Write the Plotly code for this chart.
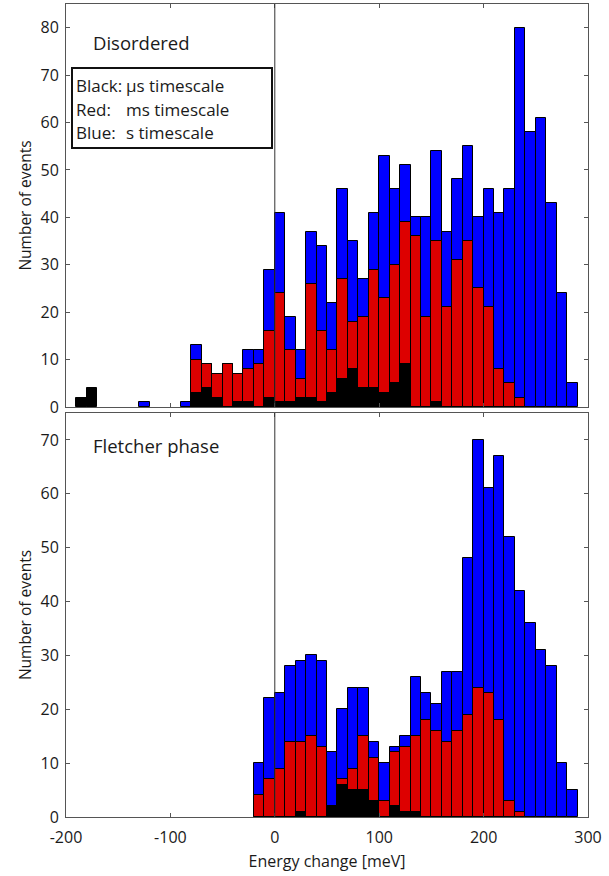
import plotly.graph_objects as go

# bin centres (meV), 10 meV bins
bin_centers = [-195, -185, -175, -165, -155, -145, -135, -125, -115, -105, -95, -85,
               -75, -65, -55, -45, -35, -25, -15, -5, 5, 15, 25, 35, 45, 55, 65, 75,
               85, 95, 105, 115, 125, 135, 145, 155, 165, 175, 185, 195, 205, 215,
               225, 235, 245, 255, 265, 275, 285]

# Disordered panel
dis_blue = [0, 0, 0, 0, 0, 0, 0, 1, 0, 0, 0, 1,
            13, 9, 7, 9, 7, 12, 12, 29, 41, 19, 12, 37, 34, 22, 46, 35,
            27, 41, 53, 46, 51, 40, 40, 54, 37, 48, 55, 40, 46, 41,
            46, 80, 58, 61, 43, 24, 5]
dis_red = [0, 0, 0, 0, 0, 0, 0, 0, 0, 0, 0, 0,
           10, 9, 7, 9, 7, 8, 9, 16, 24, 12, 6, 26, 16, 12, 27, 18,
           19, 29, 23, 30, 39, 36, 19, 35, 21, 31, 35, 25, 21, 8,
           5, 2, 0, 0, 0, 0, 0]
dis_black = [0, 2, 4, 0, 0, 0, 0, 0, 0, 0, 0, 0,
             3, 4, 2, 0, 1, 1, 0, 2, 1, 1, 2, 2, 1, 3, 6, 8,
             4, 4, 3, 5, 9, 0, 0, 1, 0, 0, 0, 0, 0, 0,
             0, 0, 0, 0, 0, 0, 0]

# Fletcher phase panel
fl_blue = [0, 0, 0, 0, 0, 0, 0, 0, 0, 0, 0, 0,
           0, 0, 0, 0, 0, 0, 10, 22, 23, 28, 29, 30, 29, 12, 20, 24,
           24, 14, 10, 13, 15, 26, 23, 21, 27, 27, 48, 70, 61, 67,
           52, 42, 36, 31, 28, 10, 5]
fl_red = [0, 0, 0, 0, 0, 0, 0, 0, 0, 0, 0, 0,
          0, 0, 0, 0, 0, 0, 4, 7, 9, 14, 14, 15, 13, 2, 7, 9,
          15, 11, 3, 12, 13, 15, 18, 16, 14, 16, 19, 24, 23, 18,
          3, 1, 0, 0, 0, 0, 0]
fl_black = [0, 0, 0, 0, 0, 0, 0, 0, 0, 0, 0, 0,
            0, 0, 0, 0, 0, 0, 0, 0, 0, 0, 1, 0, 0, 2, 6, 5,
            5, 3, 0, 2, 1, 1, 0, 0, 0, 0, 0, 0, 0, 0,
            0, 0, 0, 0, 0, 0, 0]

x_ticks = [-200, -100, 0, 100, 200, 300]
BIN_W = 10

BLUE = "#0000ff"
RED = "#dd0000"
BLACK = "#000000"
FONT = "Open Sans"
FRAME = "#555555"
TXT = "#1a1a1a"


def nz(vals):
    return [v if v > 0 else None for v in vals]


fig = go.Figure()

panels = [
    ("x", "y", dis_blue, dis_red, dis_black),
    ("x2", "y2", fl_blue, fl_red, fl_black),
]
for xa, ya, b, r, k in panels:
    for vals, col in ((b, BLUE), (r, RED), (k, BLACK)):
        fig.add_trace(go.Bar(
            x=bin_centers, y=nz(vals), width=BIN_W,
            marker=dict(color=col, line=dict(color="#000000", width=1)),
            xaxis=xa, yaxis=ya, showlegend=False, hoverinfo="x+y",
        ))

H, W = 876, 609
mt, mb, ml, mr = 4, 59, 66, 21
ph = H - mt - mb
pw = W - ml - mr


def frac(py):
    return (H - mb - py) / ph


axis_common = dict(
    showline=True, linecolor=FRAME, linewidth=1, mirror="ticks",
    ticks="inside", ticklen=4, tickcolor=FRAME, showgrid=False, zeroline=False,
    tickfont=dict(family=FONT, size=16, color=TXT),
)

fig.update_layout(
    width=W, height=H,
    margin=dict(l=ml, r=mr, t=mt, b=mb),
    paper_bgcolor="white", plot_bgcolor="white",
    barmode="overlay", bargap=0,
    font=dict(family=FONT, size=14, color=TXT),
    xaxis=dict(domain=[0, 1], range=[-200, 300], tickvals=x_ticks,
               showticklabels=False, anchor="y", **axis_common),
    yaxis=dict(domain=[frac(407), 1], range=[0, 85], dtick=10, anchor="x",
               ticklabelstandoff=3,
               title=dict(text="Number of events", standoff=5,
                          font=dict(family=FONT, size=15.5, color=TXT)),
               **axis_common),
    xaxis2=dict(domain=[0, 1], range=[-200, 300], tickvals=x_ticks,
                ticktext=[str(v) for v in x_ticks], anchor="y2",
                ticklabelstandoff=6,
                title=dict(text="Energy change [meV]", standoff=8,
                           font=dict(family=FONT, size=16, color=TXT)),
                **axis_common),
    yaxis2=dict(domain=[0, frac(413)], range=[0, 75], dtick=10, anchor="x2",
                ticklabelstandoff=3,
                title=dict(text="Number of events", standoff=5,
                           font=dict(family=FONT, size=15.5, color=TXT)),
                **axis_common),
)

# zero lines
for xr, yr, top in (("x", "y", 85), ("x2", "y2", 75)):
    fig.add_shape(type="line", xref=xr, yref=yr, x0=0, x1=0, y0=0, y1=top,
                  line=dict(color="#333333", width=1), layer="above")

# panel labels
fig.add_annotation(xref="paper", yref="paper", x=(91 - ml) / pw, y=frac(42),
                   text="Disordered", showarrow=False, xanchor="left", yanchor="middle",
                   font=dict(family=FONT, size=18.5, color=TXT))
fig.add_annotation(xref="paper", yref="paper", x=(91 - ml) / pw, y=frac(445),
                   text="Fletcher phase", showarrow=False, xanchor="left", yanchor="middle",
                   font=dict(family=FONT, size=18.5, color=TXT))

# legend box
fig.add_shape(type="rect", xref="paper", yref="paper",
              x0=(72 - ml) / pw, x1=(272 - ml) / pw, y0=frac(148), y1=frac(68),
              line=dict(color="#111111", width=2), fillcolor="white", layer="above")
legend_rows = [("Black:", "\u03bcs timescale", 86), ("Red:", "ms timescale", 109),
               ("Blue:", "s timescale", 132)]
for lab, txt, py in legend_rows:
    fig.add_annotation(xref="paper", yref="paper", x=(74 - ml) / pw, y=frac(py),
                       text=lab, showarrow=False, xanchor="left", yanchor="middle",
                       font=dict(family=FONT, size=17, color=TXT))
    fig.add_annotation(xref="paper", yref="paper", x=(124 - ml) / pw, y=frac(py),
                       text=txt, showarrow=False, xanchor="left", yanchor="middle",
                       font=dict(family=FONT, size=17, color=TXT))

fig.write_html("out.html")
